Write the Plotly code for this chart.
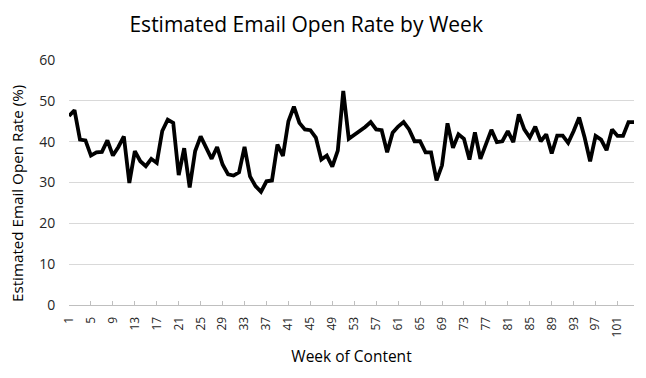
import plotly.graph_objects as go

weeks = list(range(1, 105))
open_rate = [
    46.3, 47.7, 40.5, 40.3, 36.6, 37.4, 37.5, 40.3, 36.6, 38.7,
    41.3, 29.9, 37.7, 35.2, 34.0, 35.8, 34.8, 42.6, 45.4, 44.6,
    31.8, 38.4, 28.8, 37.7, 41.3, 38.5, 35.8, 38.7, 34.4, 32.0,
    31.7, 32.5, 38.7, 31.5, 29.1, 27.7, 30.3, 30.5, 39.3, 36.5,
    45.0, 48.6, 44.6, 43.0, 42.8, 41.0, 35.6, 36.6, 33.9, 37.8,
    52.4, 40.7, 41.6, 42.6, 43.6, 44.8, 43.0, 42.8, 37.4, 42.2,
    43.7, 44.8, 43.0, 40.1, 40.1, 37.4, 37.4, 30.5, 34.2, 44.5,
    38.5, 41.8, 40.7, 35.6, 42.3, 35.8, 39.6, 42.9, 39.9, 40.1,
    42.6, 39.9, 46.7, 43.0, 41.0, 43.7, 40.1, 41.8, 37.1, 41.5,
    41.5, 39.7, 42.6, 45.9, 41.0, 35.2, 41.4, 40.5, 37.9, 43.0,
    41.4, 41.4, 44.8, 44.8,
]
x_tick_vals = list(range(1, 105, 4))
y_tick_vals = [0, 10, 20, 30, 40, 50, 60]

FONT = "Open Sans"

fig = go.Figure()
fig.add_trace(go.Scatter(
    x=weeks, y=open_rate, mode="lines",
    line=dict(color="black", width=3.8),
    hoverinfo="skip", showlegend=False,
))

fig.update_layout(
    width=646, height=378,
    margin=dict(l=69, r=12, t=60, b=73),
    paper_bgcolor="white", plot_bgcolor="white",
    font=dict(family=FONT, color="#000000"),
    title=dict(
        text="Estimated Email Open Rate by Week",
        x=0.474, xanchor="center", y=0.936, yanchor="middle",
        font=dict(family=FONT, size=21, color="#000000", weight=500),
    ),
    annotations=[dict(
        text="Estimated Email Open Rate (%)",
        xref="paper", yref="paper", x=-0.092, y=0.453,
        xanchor="center", yanchor="middle", textangle=-90,
        showarrow=False,
        font=dict(family=FONT, size=15.2, color="#000000", weight=500),
    )],
)
fig.update_xaxes(
    range=[1, 104], tickmode="array", tickvals=x_tick_vals,
    ticktext=[str(v) for v in x_tick_vals], tickangle=-90,
    tickfont=dict(size=12, color="#262626"),
    showgrid=False, showline=True, linecolor="#bfbfbf", linewidth=1,
    ticks="inside", ticklen=4, tickcolor="#bfbfbf",
    ticklabelstandoff=6,
    title=dict(text="Week of Content", font=dict(size=15.5, color="#000000", weight=500), standoff=14),
    zeroline=False,
)
fig.update_yaxes(
    range=[0, 60], tickmode="array", tickvals=y_tick_vals,
    tickfont=dict(size=14, color="#262626"),
    showgrid=True, gridcolor="#d9d9d9", gridwidth=1,
    showline=False, zeroline=False,
    ticks="outside", ticklen=10, tickcolor="rgba(0,0,0,0)",
)

fig.write_html("out.html")
